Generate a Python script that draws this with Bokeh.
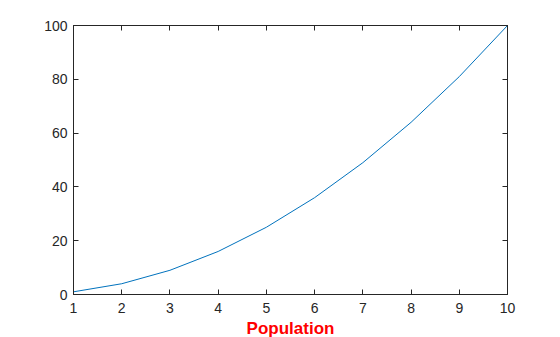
from bokeh.plotting import figure
from bokeh.models import LinearAxis, FixedTicker, CustomJSTickFormatter, Range1d
from bokeh.embed import file_html
from bokeh.resources import INLINE

x_values = [1, 2, 3, 4, 5, 6, 7, 8, 9, 10]
y_values = [1, 4, 9, 16, 25, 36, 49, 64, 81, 100]
x_ticks = [1, 2, 3, 4, 5, 6, 7, 8, 9, 10]
y_ticks = [0, 20, 40, 60, 80, 100]
x_label = "Population"

AX = "#262626"
FONT = "Liberation Sans"

p = figure(width=560, height=337, frame_width=434, frame_height=269,
           output_backend="svg", toolbar_location=None,
           x_range=Range1d(1, 10), y_range=Range1d(0, 100),
           min_border_left=73, min_border_right=53, min_border_top=25, min_border_bottom=43,
           x_axis_location=None, y_axis_location=None)
p.grid.visible = False
p.outline_line_color = AX
p.outline_line_width = 1
p.background_fill_color = "white"
p.border_fill_color = "white"

def style(ax, ticks, labels=True):
    ax.ticker = FixedTicker(ticks=ticks)
    ax.major_tick_in = 5
    ax.major_tick_out = 0
    ax.minor_tick_line_color = None
    ax.axis_line_color = AX
    ax.major_tick_line_color = AX
    ax.major_label_text_color = AX
    ax.major_label_text_font = FONT
    ax.major_label_text_font_size = "14px"
    ax.major_label_standoff = 6
    if not labels:
        ax.formatter = CustomJSTickFormatter(code="return ''")

bottom = LinearAxis()
style(bottom, x_ticks)
bottom.major_label_standoff = 8
bottom.axis_label = x_label
bottom.axis_label_text_color = "#FF0000"
bottom.axis_label_text_font = FONT
bottom.axis_label_text_font_style = "bold"
bottom.axis_label_text_font_size = "17px"
bottom.axis_label_standoff = 3
p.add_layout(bottom, "below")

left = LinearAxis()
style(left, y_ticks)
p.add_layout(left, "left")

top = LinearAxis()
style(top, x_ticks, labels=False)
p.add_layout(top, "above")

right = LinearAxis()
style(right, y_ticks, labels=False)
p.add_layout(right, "right")

p.line(x_values, y_values, line_color="#0072BD", line_width=1)

open("out.html", "w").write(file_html(p, INLINE))
